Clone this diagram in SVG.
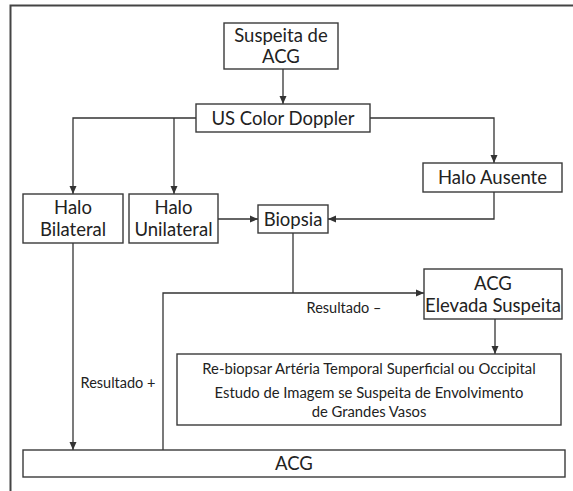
<svg xmlns="http://www.w3.org/2000/svg" width="573" height="491" viewBox="0 0 573 491">
<defs>
<marker id="ah" viewBox="0 0 8 8" refX="8" refY="4" markerWidth="8" markerHeight="8" markerUnits="userSpaceOnUse" orient="auto">
<path d="M0,0.5 L8,4 L0,7.5 Z" fill="#333"/>
</marker>
<style>
.box{fill:#fff;stroke:#3a3a3a;stroke-width:1.4}
.ln{fill:none;stroke:#333;stroke-width:1.3}
.t{font-family:Lato,"Open Sans",sans-serif;font-size:18.5px;fill:#222;text-anchor:middle}
.s{font-family:Lato,"Open Sans",sans-serif;font-size:14.8px;fill:#222;text-anchor:middle}
.r{font-family:Lato,"Open Sans",sans-serif;font-size:14.5px;fill:#222;text-anchor:middle}
</style>
</defs>
<rect width="573" height="491" fill="#fff"/>
<path d="M10.5,491 V5.5 H573" fill="none" stroke="#444" stroke-width="2"/>
<g id="connectors">
<path class="ln" d="M283,69 V104" marker-end="url(#ah)"/>
<path class="ln" d="M196,118 H73 V194" marker-end="url(#ah)"/>
<path class="ln" d="M174,118 V194" marker-end="url(#ah)"/>
<path class="ln" d="M370,118 H494 V163" marker-end="url(#ah)"/>
<path class="ln" d="M218,219 H258" marker-end="url(#ah)"/>
<path class="ln" d="M494,192 V219 H328" marker-end="url(#ah)"/>
<path class="ln" d="M293,233 V293"/>
<path class="ln" d="M163,450 V293 H424" marker-end="url(#ah)"/>
<path class="ln" d="M73,243 V450" marker-end="url(#ah)"/>
<path class="ln" d="M495,319 V354" marker-end="url(#ah)"/>
<text class="r" x="344" y="313">Resultado –</text>
<text class="r" x="118" y="388">Resultado +</text>
</g>
<g id="suspeita">
<rect class="box" x="224" y="23" width="114" height="46"/>
<text class="t" x="281" y="42">Suspeita de</text>
<text class="t" x="281" y="63">ACG</text>
</g>
<g id="doppler">
<rect class="box" x="196" y="104" width="174" height="28"/>
<text class="t" x="283" y="124.5">US Color Doppler</text>
</g>
<g id="bilateral">
<rect class="box" x="23" y="194" width="100" height="49"/>
<text class="t" x="73" y="214">Halo</text>
<text class="t" x="73" y="236">Bilateral</text>
</g>
<g id="unilateral">
<rect class="box" x="129" y="194" width="89" height="49"/>
<text class="t" x="173.5" y="214">Halo</text>
<text class="t" x="173.5" y="236">Unilateral</text>
</g>
<g id="ausente">
<rect class="box" x="423" y="163" width="139" height="29"/>
<text class="t" x="492.5" y="184">Halo Ausente</text>
</g>
<g id="biopsia">
<rect class="box" x="258" y="205" width="70" height="28"/>
<text class="t" x="293" y="225.5">Biopsia</text>
</g>
<g id="elevada">
<rect class="box" x="424" y="269" width="138" height="50"/>
<text class="t" x="493" y="290">ACG</text>
<text class="t" x="493" y="312">Elevada Suspeita</text>
</g>
<g id="rebiopsar">
<rect class="box" x="177" y="354" width="384" height="71"/>
<text class="s" x="369" y="374">Re-biopsar Artéria Temporal Superficial ou Occipital</text>
<text class="s" x="369" y="398">Estudo de Imagem se Suspeita de Envolvimento</text>
<text class="s" x="369" y="417">de Grandes Vasos</text>
</g>
<g id="acg">
<rect class="box" x="23" y="450" width="542" height="27"/>
<text class="t" x="294" y="470">ACG</text>
</g>
</svg>
